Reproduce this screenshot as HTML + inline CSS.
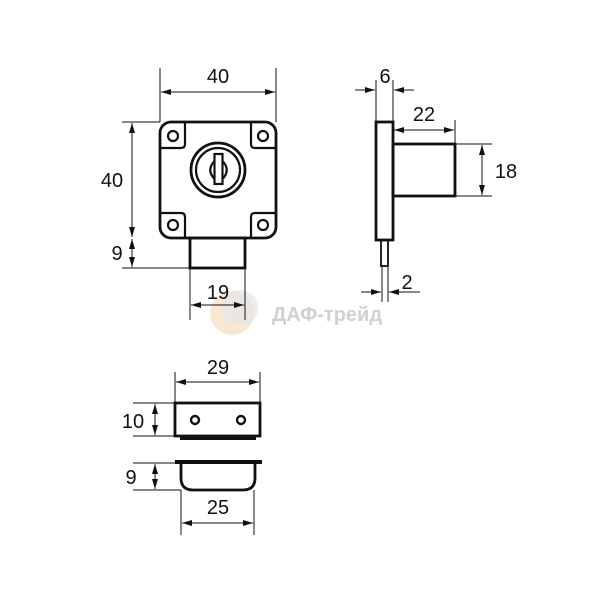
<!DOCTYPE html>
<html><head><meta charset="utf-8"><style>
html,body{margin:0;padding:0;background:#fff;}
svg{display:block}
text{font-family:"Liberation Sans",Arial,sans-serif;font-size:20px;fill:#111}
</style></head><body>
<svg width="600" height="600" viewBox="0 0 600 600" xmlns="http://www.w3.org/2000/svg">
<defs>
<marker id="a" viewBox="0 0 10 6" refX="10" refY="3" markerWidth="10" markerHeight="6" orient="auto-start-reverse" markerUnits="userSpaceOnUse"><path d="M0,0 L10,3 L0,6 z" fill="#111"/></marker>
</defs>
<g opacity="0.45">
<circle cx="232" cy="313" r="22" fill="#f3c9a0"/>
<circle cx="240" cy="308" r="18" fill="#c8c8c8" opacity="0.7"/>
<text x="272" y="321" style="font-size:20px;font-weight:bold;fill:#999">ДАФ-трейд</text>
</g>
<g fill="none" stroke="#111">
<rect x="160" y="122" width="116" height="116" rx="11" stroke-width="2.8"/>
<path d="M160,148 H181 Q185,148 185,144 V122 M251,122 V144 Q251,148 255,148 H276 M160,213 H181 Q185,213 185,217 V238 M251,238 V217 Q251,213 255,213 H276" stroke-width="2.2"/>
<circle cx="173" cy="136" r="5" stroke-width="2.2"/>
<circle cx="263" cy="136" r="5" stroke-width="2.2"/>
<circle cx="173" cy="225" r="5" stroke-width="2.2"/>
<circle cx="263" cy="225" r="5" stroke-width="2.2"/>
<circle cx="218" cy="170" r="27" stroke-width="2.8"/>
<circle cx="218" cy="170" r="22" stroke-width="2.2"/>
<rect x="214.5" y="154" width="8" height="30" stroke-width="2.2"/>
<path d="M214.5,161 Q206,170 214.5,179 M222.5,161 Q231,170 222.5,179" stroke-width="2.2"/>
<rect x="190" y="238" width="55" height="30" stroke-width="2.8"/>
<g stroke-width="1">
<path d="M160,68 V122 M276,68 V122"/>
<path d="M161,92 H275" marker-start="url(#a)" marker-end="url(#a)"/>
<path d="M122,122 H160 M122,268 H190"/>
<path d="M132,123 V237" marker-start="url(#a)" marker-end="url(#a)"/>
<path d="M132,239 V267" marker-start="url(#a)" marker-end="url(#a)"/>
<path d="M190,268 V320 M245,268 V320"/>
<path d="M191,305 H244" marker-start="url(#a)" marker-end="url(#a)"/>
</g>
<rect x="376" y="122" width="17" height="118" stroke-width="2.8"/>
<rect x="393" y="144" width="62" height="52" stroke-width="2.8"/>
<rect x="381" y="240" width="7" height="26" stroke-width="1.8"/>
<g stroke-width="1">
<path d="M376,80 V122 M393,80 V122"/>
<path d="M355,90 H375" marker-end="url(#a)"/>
<path d="M414,90 H394" marker-end="url(#a)"/>
<path d="M455,120 V144"/>
<path d="M394,130 H454" marker-start="url(#a)" marker-end="url(#a)"/>
<path d="M455,144 H492 M455,196 H492"/>
<path d="M482,145 V195" marker-start="url(#a)" marker-end="url(#a)"/>
<path d="M382,266 V302 M388,266 V302"/>
<path d="M361,292 H381" marker-end="url(#a)"/>
<path d="M420,292 H389" marker-end="url(#a)"/>
</g>
<rect x="175" y="403" width="85" height="33" stroke-width="2.8"/>
<path d="M180,438 H256" stroke-width="4"/>
<circle cx="195" cy="420" r="4" stroke-width="2.4"/>
<circle cx="241" cy="420" r="4" stroke-width="2.4"/>
<path d="M175,462 H262" stroke-width="4"/>
<path d="M181,464 V478 Q181,490 193,490 H243 Q255,490 255,478 V464" stroke-width="2.8"/>
<g stroke-width="1">
<path d="M175,372 V403 M260,372 V403"/>
<path d="M176,382 H259" marker-start="url(#a)" marker-end="url(#a)"/>
<path d="M133,403 H175 M133,436 H175"/>
<path d="M155,404 V435" marker-start="url(#a)" marker-end="url(#a)"/>
<path d="M133,463 H181 M133,490 H181"/>
<path d="M155,464 V489" marker-start="url(#a)" marker-end="url(#a)"/>
<path d="M181,490 V535 M254,490 V535"/>
<path d="M182,523 H253" marker-start="url(#a)" marker-end="url(#a)"/>
</g>
</g>
<g text-anchor="middle">
<text x="218" y="83">40</text>
<text x="112" y="187">40</text>
<text x="117" y="260">9</text>
<text x="218" y="299">19</text>
<text x="385" y="83">6</text>
<text x="424" y="121">22</text>
<text x="506" y="178">18</text>
<text x="407" y="289">2</text>
<text x="218" y="374">29</text>
<text x="133" y="428">10</text>
<text x="131" y="484">9</text>
<text x="218" y="514">25</text>
</g>
</svg>
</body></html>
